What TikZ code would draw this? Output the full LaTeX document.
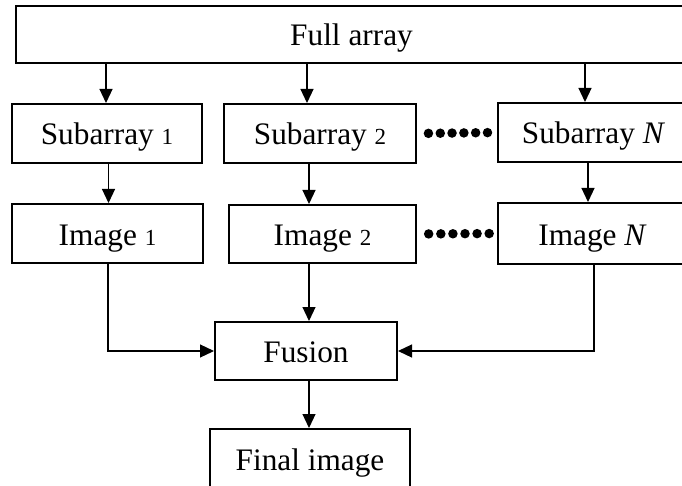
\documentclass[tikz,border=0pt]{standalone}
\usepackage{fontspec}
\setmainfont{Liberation Serif}
\usetikzlibrary{arrows.meta}
\newcommand{\numsm}[1]{{\fontsize{23}{23}\selectfont #1}}
\begin{document}
\begin{tikzpicture}[x=1pt,y=-1pt,
  box/.style={draw, line width=2pt, inner sep=0pt, minimum height=59pt,
    text height=23pt, text depth=0pt, font=\fontsize{31.3}{36}\selectfont},
  arr/.style={line width=1.2pt, -{Triangle[length=14pt,width=13pt]}},
  dotmark/.style={circle, fill, inner sep=0pt, minimum size=9.5pt}]
\useasboundingbox (0,0) rectangle (682,486);
\clip (0,0) rectangle (682,486);
% boxes
\node[box, minimum width=671pt, minimum height=57.5pt] (full) at (351.5,34.3) {Full array};
\node[box, minimum width=190pt] (s1) at (107,133.5) {Subarray \numsm{1}};
\node[box, minimum width=192pt] (s2) at (320,133.5) {Subarray \numsm{2}};
\node[box, minimum width=191pt] (sN) at (593.5,132.5) {Subarray \textit{N}};
\node[box, minimum width=191pt] (i1) at (107.5,233.5) {Image \numsm{1}};
\node[box, minimum width=187pt, minimum height=58pt] (i2) at (322.5,234) {Image \numsm{2}};
\node[box, minimum width=189pt, minimum height=61pt] (iN) at (592.5,233.5) {Image \textit{N}};
\node[box, minimum width=182pt, minimum height=58pt] (fusion) at (306,351) {Fusion};
\node[box, minimum width=200pt] (final) at (310,458.5) {Final image};
% helper coordinates for connector columns
\coordinate (a1) at ([xshift=-1pt]s1.north);
\coordinate (a2) at ([xshift=-13pt]s2.north);
\coordinate (a3) at ([xshift=-8.5pt]sN.north);
\coordinate (b1) at ([xshift=1pt]i1.north);
\coordinate (b2) at ([xshift=-13.5pt]i2.north);
\coordinate (b3) at ([xshift=-4.5pt]iN.north);
\coordinate (f1) at ([xshift=3pt]fusion.north);
\coordinate (f2) at ([xshift=-1pt]final.north);
% connectors
\draw[arr] (a1 |- full.south) -- (a1);
\draw[arr] (a2 |- full.south) -- (a2);
\draw[arr] (a3 |- full.south) -- (a3);
\draw[arr] (b1 |- s1.south) -- (b1);
\draw[arr] (b2 |- s2.south) -- (b2);
\draw[arr] (b3 |- sN.south) -- (b3);
\draw[arr] ([xshift=0.5pt]i1.south) |- (fusion.west);
\draw[arr] (f1 |- i2.south) -- (f1);
\draw[arr] ([xshift=1.5pt]iN.south) |- (fusion.east);
\draw[arr] (f2 |- fusion.south) -- (f2);
% dotted links
\foreach \p in {0.143,0.291,0.438,0.586,0.733,0.881}
  \path (s2.east) -- (sN.west) node[dotmark,pos=\p]{};
\foreach \p in {0.146,0.298,0.449,0.600,0.751,0.902}
  \path (i2.east) -- (iN.west) node[dotmark,pos=\p]{};
\end{tikzpicture}
\end{document}
